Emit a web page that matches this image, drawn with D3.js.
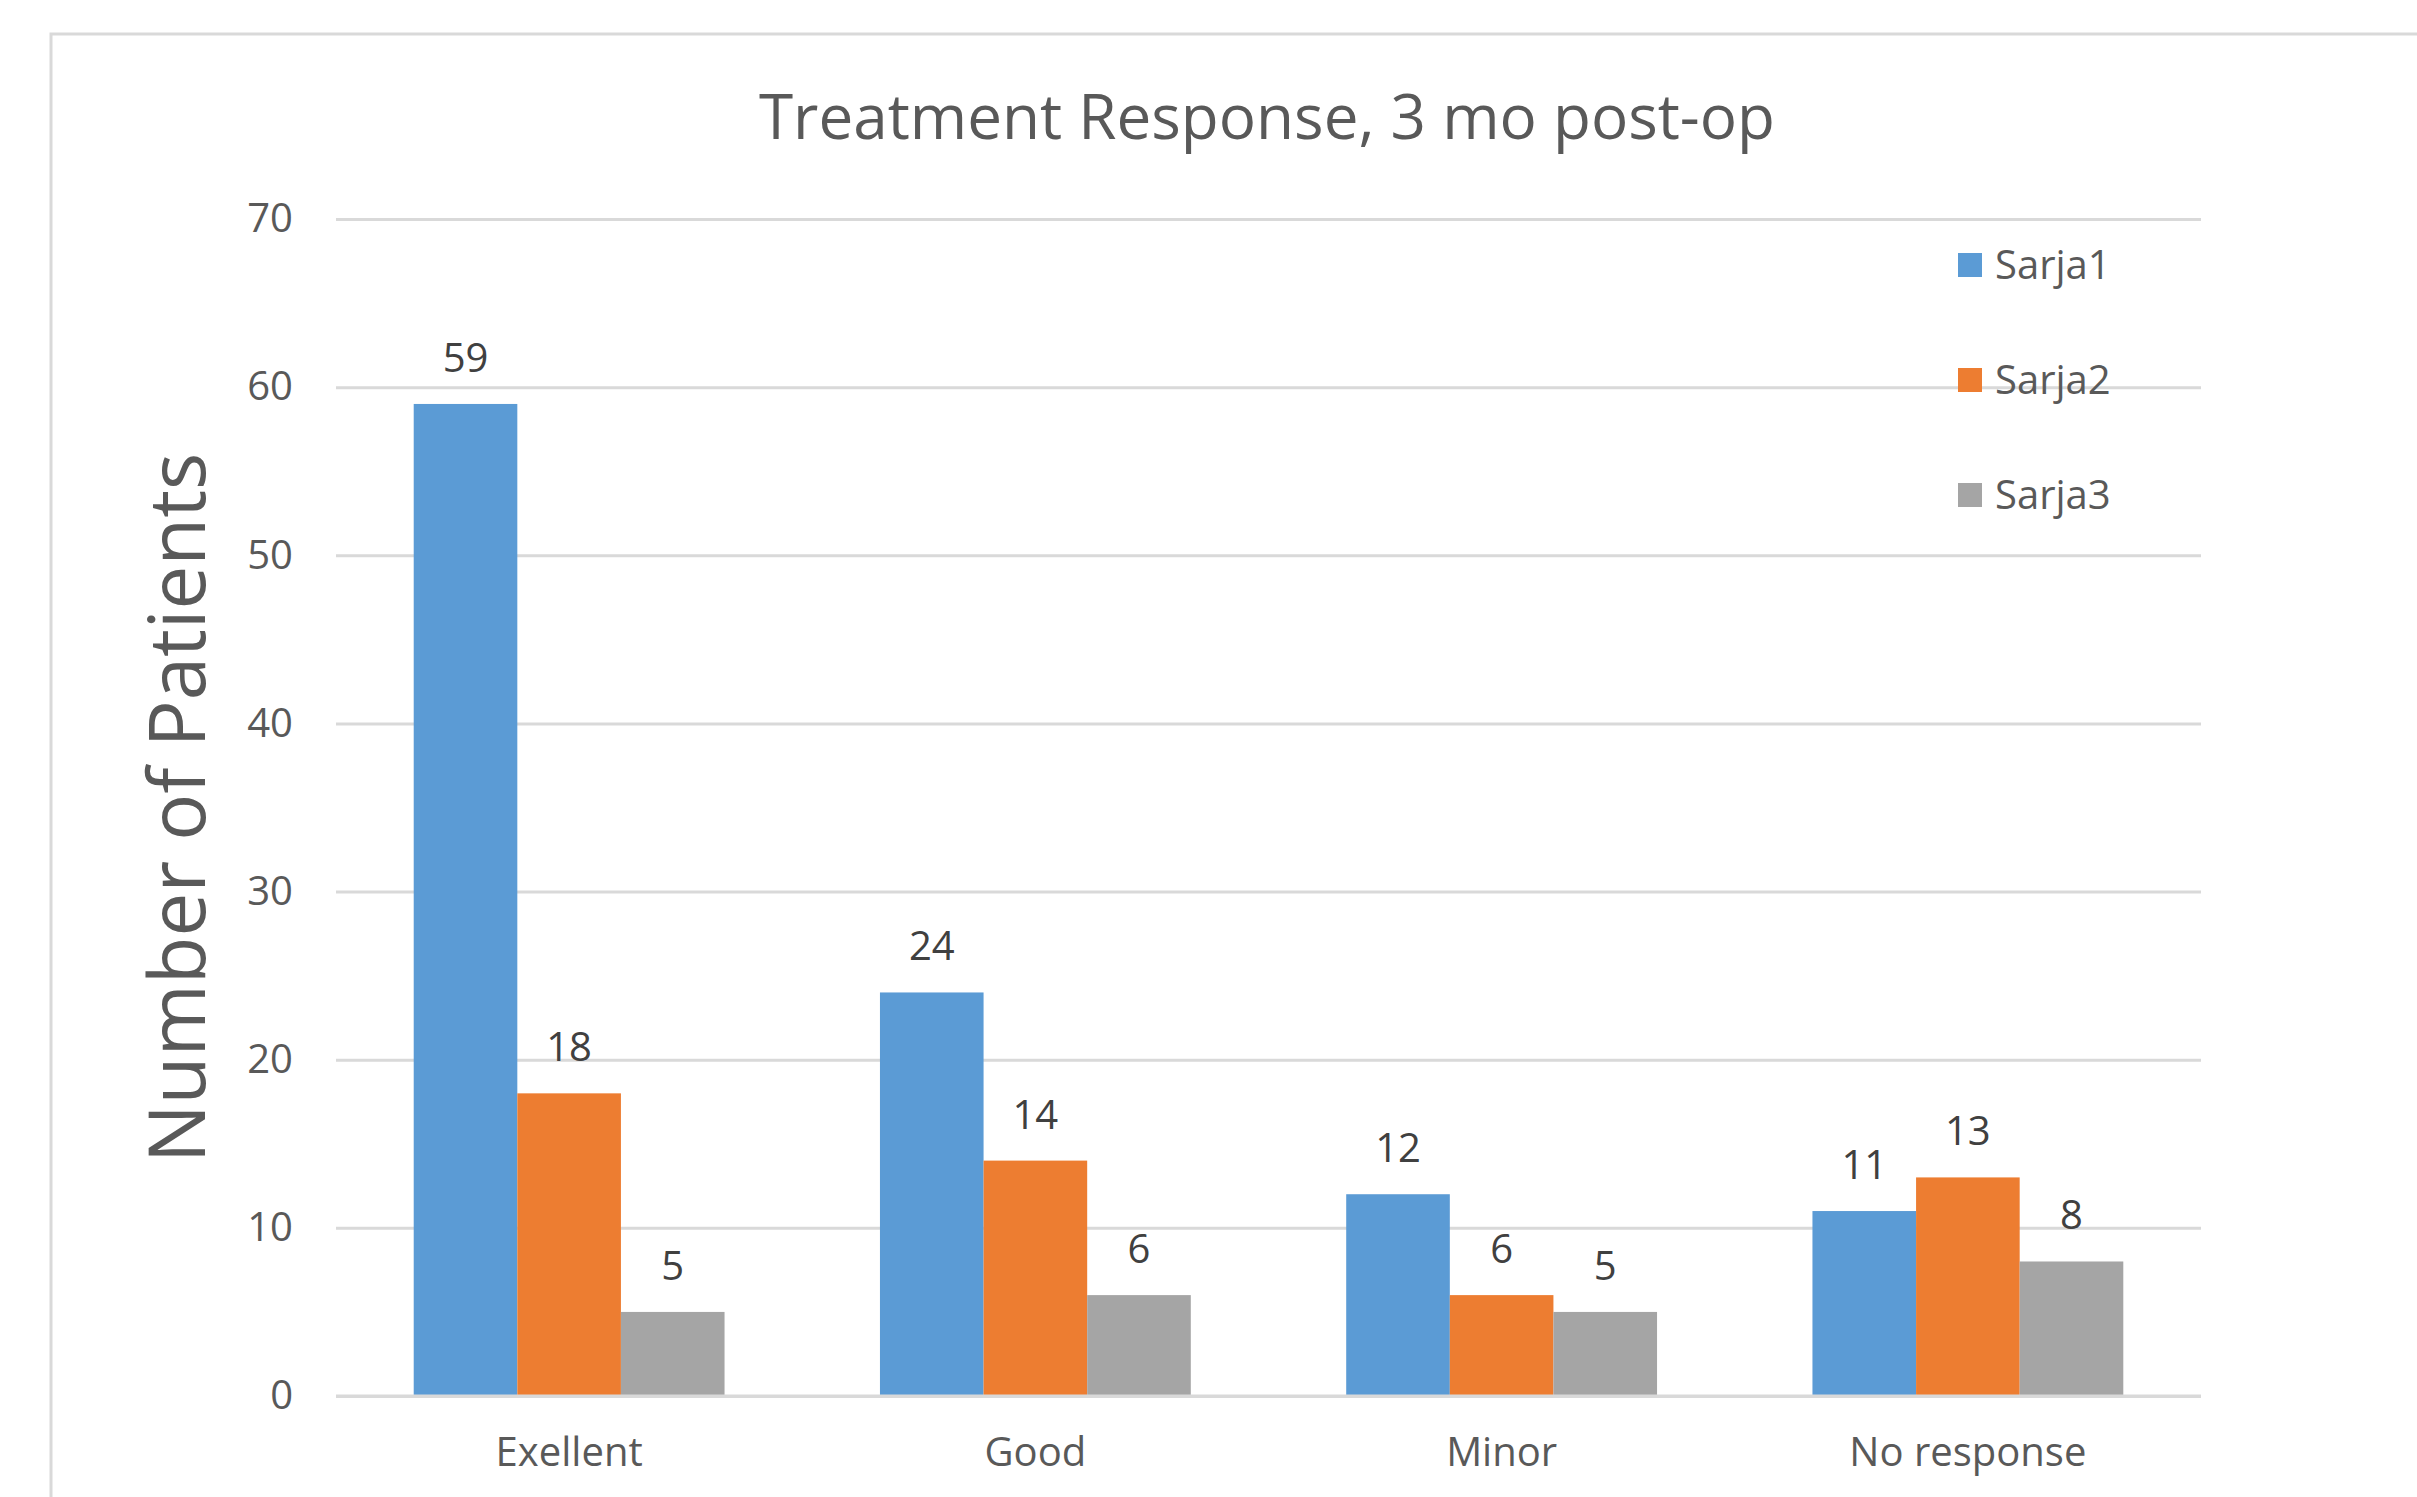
<!DOCTYPE html>
<html>
<head>
<meta charset="utf-8">
<script src="https://cdn.jsdelivr.net/npm/d3@7"></script>
<style>
  html, body { margin: 0; padding: 0; background: #ffffff; }
  svg { display: block; }
  text { font-family: "Segoe UI", "Open Sans", "Noto Sans", sans-serif; }
</style>
</head>
<body>
<svg id="chart" width="2417" height="1497"></svg>
<script>
// Patient counts by treatment response, three series
const categories = ["Exellent", "Good", "Minor", "No response"];
const seriesNames = ["Sarja1", "Sarja2", "Sarja3"];
const sarja1 = [59, 24, 12, 11];
const sarja2 = [18, 14, 6, 13];
const sarja3 = [5, 6, 5, 8];
const yTicks = [0, 10, 20, 30, 40, 50, 60, 70];
const seriesColors = ["#5B9BD5", "#ED7D31", "#A5A5A5"];

const seriesValues = [sarja1, sarja2, sarja3];
const rows = categories.map((c, i) => ({
  category: c,
  values: seriesNames.map((s, j) => ({ series: s, value: seriesValues[j][i] }))
}));

const svg = d3.select("#chart");
const W = 2417, H = 1497;

// chart frame
svg.append("rect")
  .attr("x", 51).attr("y", 34)
  .attr("width", W + 10).attr("height", H + 10)
  .attr("fill", "#ffffff")
  .attr("stroke", "#D9D9D9").attr("stroke-width", 3);

const plot = { left: 336, right: 2201, top: 219, bottom: 1396 };

const x = d3.scaleBand()
  .domain(categories)
  .range([plot.left, plot.right])
  .paddingInner(0).paddingOuter(0);

// 150% gap width: group occupies 3 / 4.5 of each band
const groupFrac = 3 / 4.5;
const xs = d3.scaleBand()
  .domain(seriesNames)
  .range([0, x.bandwidth() * groupFrac]);
const groupOffset = x.bandwidth() * (1 - groupFrac) / 2;

const y = d3.scaleLinear().domain([0, 70]).range([plot.bottom, plot.top]);

// gridlines + tick labels via axis
const yAxis = d3.axisLeft(y)
  .tickValues(yTicks)
  .tickSize(-(plot.right - plot.left))
  .tickPadding(43)
  .tickFormat(d3.format("d"));

const gy = svg.append("g")
  .attr("transform", `translate(${plot.left},0)`)
  .call(yAxis);
gy.select(".domain").remove();
gy.selectAll(".tick line").attr("stroke", "#D9D9D9").attr("stroke-width", 3);
gy.selectAll(".tick text")
  .attr("fill", "#595959")
  .style("font-size", "40px");

// bars
const groups = svg.append("g").selectAll("g")
  .data(rows).join("g")
  .attr("transform", d => `translate(${x(d.category) + groupOffset},0)`);

groups.selectAll("rect")
  .data(d => d.values).join("rect")
  .attr("x", d => xs(d.series))
  .attr("width", xs.bandwidth())
  .attr("y", d => y(d.value))
  .attr("height", d => y(0) - y(d.value))
  .attr("fill", (d, i) => seriesColors[i]);

// value labels
groups.selectAll("text")
  .data(d => d.values).join("text")
  .attr("x", d => xs(d.series) + xs.bandwidth() / 2)
  .attr("y", d => y(d.value) - 32)
  .attr("text-anchor", "middle")
  .attr("fill", "#404040")
  .style("font-size", "40px");
groups.selectAll("text").text(d => d.value);

// category axis labels
const xAxis = d3.axisBottom(x).tickSize(0).tickPadding(42);
const gx = svg.append("g")
  .attr("transform", `translate(0,${plot.bottom})`)
  .call(xAxis);
gx.select(".domain").remove();
gx.selectAll(".tick text")
  .attr("fill", "#595959")
  .style("font-size", "40px");

// zero baseline over the bars' bottom edge
svg.append("line")
  .attr("x1", plot.left).attr("x2", plot.right)
  .attr("y1", y(0)).attr("y2", y(0))
  .attr("stroke", "#D9D9D9").attr("stroke-width", 3);

// title
svg.append("text")
  .attr("x", 1267).attr("y", 139)
  .attr("text-anchor", "middle")
  .attr("fill", "#595959")
  .style("font-size", "62px")
  .text("Treatment Response, 3 mo post-op");

// y-axis title
svg.append("text")
  .attr("transform", "translate(205,808) rotate(-90)")
  .attr("text-anchor", "middle")
  .attr("fill", "#595959")
  .style("font-size", "78px")
  .text("Number of Patients");

// legend
const legend = svg.append("g").selectAll("g")
  .data(seriesNames).join("g")
  .attr("transform", (d, i) => `translate(1958,${265 + i * 115})`);
legend.append("rect")
  .attr("x", 0).attr("y", -12)
  .attr("width", 24).attr("height", 24)
  .attr("fill", (d, i) => seriesColors[i]);
legend.append("text")
  .attr("x", 37).attr("y", 0)
  .attr("dy", "0.35em")
  .attr("fill", "#595959")
  .style("font-size", "40px")
  .text(d => d);
</script>
</body>
</html>
